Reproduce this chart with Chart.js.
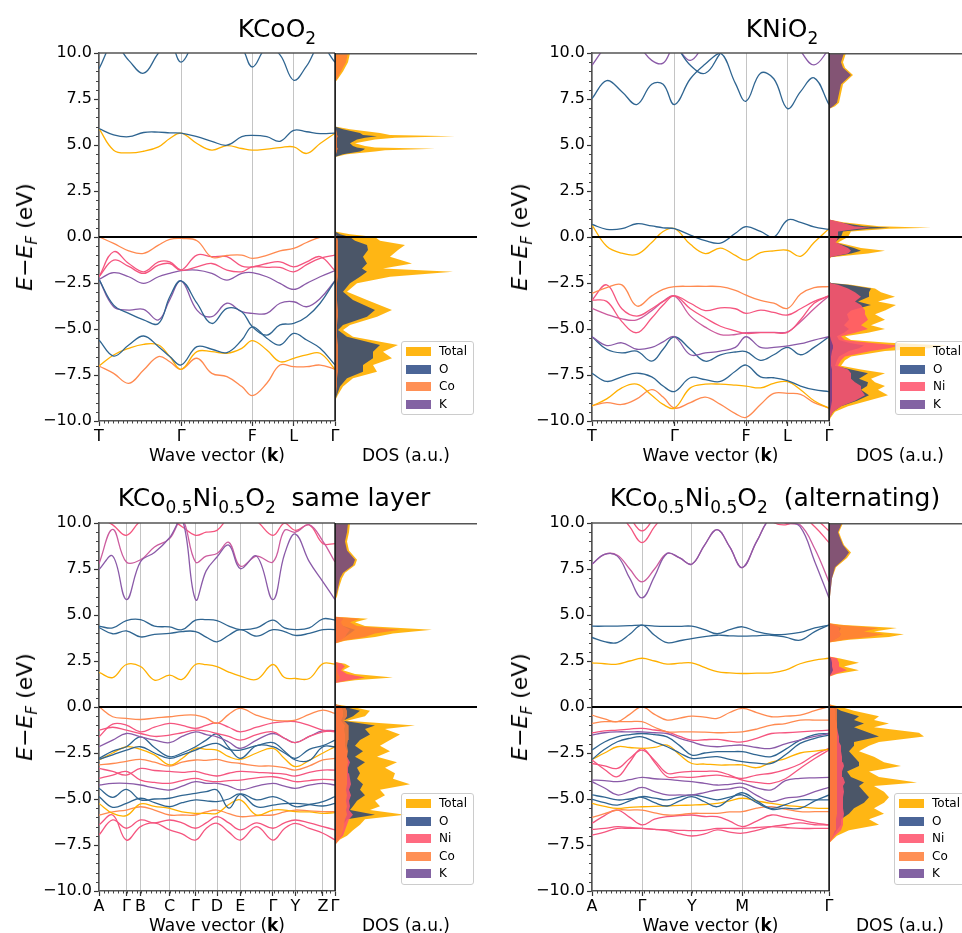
<!DOCTYPE html>
<html>
<head>
<meta charset="utf-8">
<title>Band structures and DOS</title>
<script src="https://cdn.jsdelivr.net/npm/chart.js@4.4.1/dist/chart.umd.min.js"></script>
<style>
  html, body { margin: 0; padding: 0; background: #fff; }
  body { position: relative; width: 962px; height: 933px; overflow: hidden; font-family: "DejaVu Sans", sans-serif; color: #000; }
  canvas { position: absolute; display: block; }
  .title { position: absolute; font-size: 25px; line-height: 1; white-space: nowrap; transform: translateX(-50%); }
  .title sub { font-size: 17px; line-height: 0; vertical-align: -7px; }
  .ylab { position: absolute; font-size: 22px; line-height: 1; white-space: nowrap; transform: translate(-50%, -50%) rotate(-90deg); }
  .ylab sub { font-size: 15px; line-height: 0; vertical-align: -5px; }
  .xlab { position: absolute; font-size: 17px; line-height: 1; white-space: nowrap; transform: translateX(-50%); }
  .legend { position: absolute; background: rgba(255,255,255,0.8); border: 1px solid #ccc; border-radius: 3px; padding: 1px 6px 1px 4px; font-size: 12px; line-height: 17.6px; white-space: nowrap; }
  .legend span { display: inline-block; width: 25px; height: 9px; margin-right: 8px; vertical-align: -1px; }
</style>
</head>
<body>
<script>
// ---------- k paths and high-symmetry labels ----------
// KCoO2 and KNiO2 share the T-Γ-F-L-Γ path
const kPathTFL = [0, 0.062, 0.126, 0.189, 0.252, 0.30, 0.348, 0.415, 0.478, 0.542, 0.605, 0.650, 0.711, 0.767, 0.825, 0.880, 0.937, 1];
const kTicksTFL = [0, 0.348, 0.650, 0.825, 1];
const kLabelsTFL = ['T', 'Γ', 'F', 'L', 'Γ'];

const kPathSame = [0, 0.058, 0.116, 0.176, 0.235, 0.299, 0.352, 0.409, 0.454, 0.5, 0.55, 0.599, 0.668, 0.737, 0.786, 0.832, 0.891, 0.949, 1];
const kTicksSame = [0, 0.116, 0.176, 0.299, 0.409, 0.5, 0.599, 0.737, 0.832, 0.949, 1];
const kLabelsSame = ['A', 'Γ', 'B', 'C', 'Γ', 'D', 'E', 'Γ', 'Y', 'Z', 'Γ'];

const kPathAlt = [0, 0.053, 0.107, 0.159, 0.211, 0.264, 0.317, 0.37, 0.421, 0.475, 0.528, 0.581, 0.634, 0.695, 0.757, 0.816, 0.878, 0.94, 1];
const kTicksAlt = [0, 0.211, 0.421, 0.634, 1];
const kLabelsAlt = ['A', 'Γ', 'Y', 'M', 'Γ'];

// ---------- bands (eV, one value per k point) ----------
const kcoBands = [
  [9.15, 10.5, 9.6, 8.9, 10.0, 10.6, 9.5, 10.8, 11, 11, 10.3, 9.24, 10.3, 9.9, 8.52, 9.3, 10.4, 9.5],
  [5.89, 5.55, 5.45, 5.68, 5.70, 5.66, 5.64, 5.45, 5.2, 4.99, 5.45, 5.52, 5.45, 5.2, 5.8, 5.72, 5.62, 5.64],
  [5.89, 4.72, 4.57, 4.66, 4.9, 5.35, 5.64, 5.08, 4.72, 4.97, 4.81, 4.72, 4.78, 4.86, 4.9, 4.54, 5.08, 5.64],
  [0.01, -0.35, -0.75, -0.89, -0.44, -0.13, -0.08, -0.2, -1.1, -1.0, -0.98, -1.16, -1.0, -0.75, -0.62, -0.3, -0.02, 0.01],
  [-2.16, -0.8, -1.44, -1.89, -1.35, -1.35, -1.8, -1.62, -1.44, -1.8, -1.89, -1.62, -1.65, -1.65, -1.89, -1.5, -1.16, -0.98],
  [-2.16, -1.26, -1.6, -1.98, -1.53, -1.44, -1.8, -0.98, -1.07, -1.07, -1.58, -1.62, -1.44, -1.35, -1.62, -1.35, -1.07, -1.83],
  [-2.3, -1.94, -2.16, -2.52, -2.16, -1.98, -1.83, -1.8, -1.98, -2.34, -1.98, -1.94, -2.16, -2.52, -2.85, -2.52, -2.16, -1.83],
  [-2.3, -3.7, -4.15, -4.5, -4.7, -3.25, -2.38, -3.6, -4.7, -3.88, -4.06, -4.88, -5.33, -4.78, -4.7, -4.33, -3.6, -2.38],
  [-2.3, -3.79, -3.97, -3.93, -4.51, -3.4, -2.38, -3.97, -4.33, -3.6, -4.06, -4.15, -4.15, -3.6, -3.52, -3.79, -3.34, -2.38],
  [-5.6, -6.47, -5.87, -5.38, -5.96, -6.5, -6.95, -5.96, -6.1, -6.28, -5.6, -4.88, -5.5, -5.87, -5.24, -5.6, -6.05, -6.95],
  [-7.01, -6.41, -6.05, -5.83, -5.87, -6.5, -7.19, -6.23, -6.23, -6.32, -6.05, -5.63, -6.14, -6.78, -6.59, -6.41, -6.32, -7.19],
  [-7.01, -7.41, -7.95, -7.23, -6.5, -6.78, -7.19, -6.59, -7.41, -7.59, -8.13, -8.62, -7.95, -6.96, -7.05, -7.05, -6.96, -7.19]
];
const kcoColours = ['blue', 'blue', 'gold', 'orange', 'pink', 'pink', 'purple', 'blue', 'purple', 'blue', 'gold', 'orange'];

const kniBands = [
  [7.52, 8.5, 7.9, 7.2, 8.3, 8.3, 7.2, 8.6, 9.4, 10.0, 8.35, 7.38, 8.9, 8.6, 6.98, 7.9, 8.65, 7.2],
  [11, 11, 11, 11, 11, 11, 10.5, 9.33, 8.9, 10.0, 11, 11, 11, 11, 11, 11, 11, 11],
  [9.33, 10.4, 11, 10.5, 9.6, 9.45, 10.3, 9.6, 10.5, 11, 11, 11, 11, 11, 11, 10.1, 9.35, 10.2],
  [0.68, 0.42, 0.45, 0.72, 0.6, 0.5, 0.45, 0.1, -0.2, -0.33, 0.2, 0.56, 0.3, 0.0, 0.92, 0.8, 0.55, 0.41],
  [0.65, -0.5, -0.88, -0.95, -0.3, 0.3, 0.46, -0.4, -0.9, -0.6, -1.0, -1.26, -0.85, -0.75, -0.72, -1.05, -0.3, 0.45],
  [-3.07, -2.75, -2.6, -3.75, -3.2, -2.85, -2.7, -2.68, -2.68, -2.7, -2.9, -3.16, -3.45, -3.6, -3.88, -3.1, -2.75, -2.7],
  [-3.43, -3.5, -4.6, -5.2, -4.4, -3.7, -3.2, -3.9, -4.4, -4.85, -5.1, -5.24, -5.2, -5.2, -5.18, -4.5, -3.6, -3.2],
  [-3.43, -2.6, -3.9, -4.3, -3.9, -3.5, -3.2, -3.6, -4.0, -3.85, -3.9, -4.15, -3.97, -4.1, -4.24, -3.9, -3.5, -3.2],
  [-3.88, -4.2, -4.45, -4.5, -4.0, -3.5, -3.2, -4.3, -4.9, -5.3, -5.3, -5.2, -5.18, -5.18, -5.15, -4.6, -3.9, -3.2],
  [-5.42, -5.9, -5.75, -6.1, -6.0, -5.7, -5.42, -6.4, -6.3, -6.2, -6.0, -5.42, -6.0, -6.0, -5.92, -5.8, -5.6, -5.42],
  [-5.42, -6.1, -6.3, -6.2, -6.75, -6.1, -5.42, -6.1, -6.75, -6.4, -6.25, -6.23, -6.7, -6.4, -6.0, -6.4, -6.0, -5.42],
  [-7.41, -7.85, -7.6, -7.4, -7.6, -8.1, -8.4, -7.65, -7.75, -7.85, -7.3, -6.96, -7.6, -7.65, -7.8, -8.1, -8.3, -8.4],
  [-9.18, -8.8, -8.2, -8.0, -8.6, -9.1, -9.3, -8.2, -8.0, -8.0, -8.05, -8.1, -8.2, -7.95, -7.86, -8.3, -8.9, -9.3],
  [-9.18, -9.0, -9.1, -8.8, -8.3, -8.7, -9.3, -9.0, -8.7, -9.1, -9.6, -9.8, -9.1, -8.5, -8.5, -8.55, -9.0, -9.3]
];
const kniColours = ['blue', 'blue', 'purple', 'blue', 'gold', 'orange', 'pink', 'pink', 'magenta', 'purple', 'blue', 'blue', 'gold', 'orange'];

const sameBands = [
  [7.47, 8.2, 5.84, 7.9, 8.4, 9.2, 10.2, 5.84, 7.4, 8.15, 8.8, 7.52, 8.2, 5.84, 8.3, 9.4, 7.9, 6.8, 5.84],
  [7.79, 9.65, 7.88, 8.0, 8.7, 9.15, 10.2, 7.88, 8.2, 8.34, 8.95, 7.65, 8.2, 7.88, 9.6, 9.5, 9.9, 9.0, 7.88],
  [10.3, 9.9, 9.33, 10.1, 10.3, 10.2, 9.8, 9.33, 9.5, 9.6, 10.3, 10.5, 10.1, 9.33, 10.0, 9.6, 9.9, 8.88, 8.88],
  [4.39, 4.3, 4.7, 4.75, 4.4, 4.35, 4.2, 4.72, 4.75, 4.7, 4.4, 4.21, 4.3, 4.72, 4.3, 4.21, 4.3, 4.79, 4.72],
  [4.32, 3.98, 4.14, 3.81, 3.95, 4.0, 4.1, 4.1, 3.8, 3.54, 3.9, 4.21, 3.85, 4.2, 4.1, 3.89, 4.0, 4.2, 4.21],
  [1.88, 1.6, 2.31, 2.2, 1.46, 1.73, 1.5, 2.31, 2.3, 2.19, 1.9, 1.68, 1.5, 2.31, 1.6, 1.55, 1.55, 2.36, 2.33],
  [0.01, -0.53, -0.62, -0.68, -0.6, -0.53, -0.45, -0.44, -0.6, -0.89, -0.4, -0.08, -0.45, -0.71, -0.75, -0.71, -0.4, -0.17, -0.35],
  [-1.62, -0.93, -0.98, -1.35, -1.1, -0.89, -1.0, -1.16, -1.0, -0.86, -1.1, -1.35, -1.1, -0.86, -0.8, -0.8, -1.0, -1.26, -1.35],
  [-1.26, -1.1, -1.26, -1.44, -1.6, -1.53, -1.4, -1.26, -1.3, -1.44, -1.6, -1.8, -1.5, -1.35, -1.7, -1.94, -1.6, -1.35, -1.29],
  [-2.16, -1.8, -1.44, -1.62, -1.8, -1.94, -1.6, -1.35, -1.5, -1.62, -1.9, -2.25, -1.8, -1.44, -1.7, -1.94, -1.6, -1.29, -1.29],
  [-2.79, -2.4, -2.16, -1.62, -2.2, -2.7, -2.5, -2.16, -1.8, -1.47, -2.2, -2.79, -2.1, -2.16, -2.5, -2.79, -2.3, -2.1, -1.8],
  [-2.85, -2.6, -2.34, -2.16, -2.5, -2.79, -2.6, -2.34, -2.1, -1.98, -2.3, -2.34, -2.1, -1.94, -2.4, -2.88, -2.9, -2.16, -2.16],
  [-2.88, -2.5, -2.16, -2.3, -2.6, -3.15, -2.8, -2.25, -2.3, -2.34, -2.7, -2.85, -2.5, -2.25, -2.8, -3.24, -2.9, -2.5, -2.16],
  [-3.15, -3.07, -2.95, -2.85, -3.0, -3.21, -3.0, -2.88, -2.9, -2.85, -3.0, -3.07, -3.2, -3.21, -3.3, -3.43, -3.2, -2.88, -2.79],
  [-3.34, -3.5, -3.7, -3.34, -3.45, -3.5, -3.55, -3.5, -3.65, -3.75, -3.6, -3.5, -3.55, -3.6, -3.65, -3.75, -3.55, -3.43, -3.43],
  [-3.88, -3.7, -3.5, -3.97, -4.1, -4.15, -4.0, -3.88, -4.0, -4.06, -4.0, -3.97, -3.85, -3.79, -3.9, -4.06, -4.0, -3.93, -3.97],
  [-4.24, -4.15, -4.15, -4.24, -4.4, -4.51, -4.3, -4.06, -4.15, -4.15, -4.3, -4.51, -4.3, -4.15, -4.3, -4.42, -4.25, -4.15, -4.24],
  [-4.42, -4.91, -4.48, -5.05, -5.0, -4.96, -4.8, -4.69, -4.6, -4.51, -5.5, -4.73, -5.05, -4.87, -5.1, -5.42, -5.3, -5.14, -4.87],
  [-4.87, -5.45, -5.24, -4.96, -5.2, -5.42, -5.2, -5.05, -5.1, -5.14, -5.0, -4.73, -5.42, -5.33, -5.25, -5.24, -5.3, -5.38, -5.24],
  [-5.24, -5.78, -5.9, -5.27, -5.4, -5.51, -5.7, -5.78, -5.78, -5.78, -5.3, -5.05, -5.87, -5.6, -5.6, -5.69, -5.7, -5.78, -5.74],
  [-5.87, -5.7, -5.6, -5.42, -5.6, -5.87, -5.87, -5.87, -5.7, -5.6, -5.8, -5.96, -5.9, -5.87, -5.7, -5.6, -5.65, -5.69, -5.69],
  [-6.41, -5.87, -7.23, -6.5, -6.3, -6.68, -6.9, -7.23, -6.6, -6.32, -6.8, -7.23, -6.5, -7.23, -6.6, -6.32, -6.6, -6.86, -7.23],
  [-6.96, -6.14, -6.59, -6.14, -6.3, -6.14, -6.3, -6.59, -6.3, -5.96, -6.3, -6.68, -6.3, -6.59, -6.3, -6.14, -6.3, -6.5, -6.68]
];
const sameColours = ['purple', 'magenta', 'pink', 'blue', 'blue', 'gold',
  'orange', 'pink', 'pink', 'purple', 'blue', 'blue', 'gold', 'orange', 'pink', 'pink', 'purple', 'blue', 'blue', 'gold', 'orange', 'pink', 'pink'];

const altBands = [
  [7.76, 8.3, 8.2, 7.0, 5.93, 7.1, 8.35, 8.1, 7.76, 8.8, 9.64, 8.7, 7.58, 9.0, 10.3, 10.1, 9.8, 7.9, 5.93],
  [7.76, 8.3, 8.25, 7.5, 6.8, 7.5, 8.35, 8.1, 7.76, 8.8, 9.64, 8.7, 7.58, 9.0, 10.3, 10.0, 9.9, 8.6, 6.8],
  [11, 11, 10.6, 9.8, 8.93, 9.8, 10.6, 11, 11, 11, 11, 11, 11, 11, 10.4, 10.3, 10.4, 9.8, 8.93],
  [11.5, 11.5, 11, 10.3, 9.57, 10.3, 11, 11.5, 11.5, 11.5, 11.5, 11.5, 11.5, 11, 10.1, 9.9, 10.2, 10.2, 9.57],
  [4.39, 4.39, 4.4, 4.42, 4.45, 4.4, 4.38, 4.38, 4.39, 4.2, 3.98, 4.2, 4.36, 4.1, 3.95, 3.95, 4.05, 4.3, 4.45],
  [3.78, 3.55, 3.5, 3.95, 4.45, 3.9, 3.5, 3.6, 3.72, 3.82, 3.9, 3.87, 3.85, 3.87, 3.9, 3.8, 3.63, 4.1, 4.45],
  [2.4, 2.35, 2.33, 2.5, 2.65, 2.5, 2.33, 2.38, 2.4, 2.15, 1.92, 1.85, 1.82, 1.84, 1.86, 2.0, 2.35, 2.55, 2.65],
  [-0.44, -0.65, -0.8, -0.4, 0.01, -0.4, -0.71, -0.6, -0.5, -0.55, -0.62, -0.3, -0.08, -0.3, -0.53, -0.5, -0.44, -0.2, 0.01],
  [-0.89, -0.8, -0.8, -0.8, -0.8, -1.1, -1.35, -1.35, -1.35, -1.37, -1.4, -1.38, -1.35, -1.2, -0.98, -0.9, -0.71, -0.71, -0.71],
  [-1.4, -1.3, -1.26, -1.2, -1.16, -1.25, -1.35, -1.6, -1.8, -1.78, -1.76, -1.85, -1.9, -1.7, -1.44, -1.4, -1.35, -1.3, -1.26],
  [-1.53, -1.4, -1.35, -1.35, -1.35, -1.4, -1.44, -1.7, -1.9, -2.1, -2.16, -2.1, -2.07, -2.2, -2.25, -2.0, -1.8, -1.6, -1.44],
  [-2.34, -1.9, -1.62, -1.5, -1.44, -1.5, -1.62, -2.1, -2.61, -2.5, -2.43, -2.43, -2.43, -2.6, -2.7, -2.3, -1.8, -1.5, -1.44],
  [-2.85, -2.3, -1.89, -1.7, -1.62, -1.9, -2.16, -2.5, -2.79, -2.75, -2.7, -2.85, -2.97, -3.05, -3.07, -2.6, -1.98, -1.7, -1.53],
  [-2.85, -2.5, -2.16, -2.2, -2.25, -2.2, -2.07, -2.6, -3.07, -3.1, -3.15, -3.15, -3.15, -3.3, -3.0, -2.8, -2.5, -2.4, -2.3],
  [-2.88, -3.4, -3.79, -3.0, -2.25, -3.0, -3.79, -3.8, -3.82, -3.75, -3.7, -3.8, -3.88, -3.7, -3.6, -3.4, -3.1, -2.6, -2.25],
  [-3.07, -3.2, -3.34, -2.8, -2.34, -2.9, -3.6, -3.55, -3.5, -3.5, -3.5, -3.7, -3.97, -4.1, -4.15, -3.9, -3.34, -2.8, -2.34],
  [-3.97, -4.0, -4.06, -3.95, -3.82, -3.9, -3.93, -4.0, -4.06, -4.15, -4.24, -4.2, -4.15, -4.4, -4.5, -4.0, -3.88, -3.85, -3.82],
  [-4.06, -4.4, -4.78, -4.6, -4.37, -4.6, -4.78, -4.78, -4.78, -4.65, -4.51, -4.45, -4.37, -4.8, -5.14, -4.95, -4.87, -4.6, -4.37],
  [-4.78, -4.9, -5.05, -5.0, -4.91, -5.2, -5.38, -5.1, -4.87, -5.15, -5.42, -5.0, -4.66, -5.1, -5.51, -5.3, -5.05, -5.05, -5.05],
  [-5.02, -5.2, -5.33, -5.1, -4.87, -4.95, -5.05, -4.9, -4.78, -4.9, -5.05, -4.9, -4.78, -5.2, -5.56, -5.5, -5.51, -5.1, -4.78],
  [-5.24, -5.4, -5.51, -5.45, -5.42, -5.4, -5.38, -5.35, -5.33, -5.3, -5.24, -5.1, -4.96, -5.1, -5.24, -5.35, -5.42, -5.5, -5.51],
  [-6.0, -5.8, -5.6, -5.6, -5.6, -5.75, -5.87, -5.85, -5.78, -5.78, -5.78, -5.7, -5.69, -5.5, -5.42, -5.55, -5.69, -5.69, -5.69],
  [-6.32, -5.9, -5.6, -6.0, -6.41, -6.1, -5.96, -5.9, -5.87, -5.95, -5.96, -6.2, -6.5, -6.2, -5.87, -6.0, -6.14, -6.3, -6.41],
  [-6.65, -6.6, -6.5, -6.55, -6.6, -6.65, -6.68, -6.7, -6.72, -6.7, -6.6, -6.6, -6.6, -6.55, -6.5, -6.55, -6.6, -6.6, -6.6],
  [-6.96, -6.8, -6.6, -6.6, -6.6, -6.65, -6.72, -6.9, -7.01, -6.9, -6.68, -6.8, -6.86, -6.7, -6.5, -6.4, -6.3, -6.4, -6.41]
];
const altColours = ['purple', 'magenta', 'pink', 'pink', 'blue', 'blue', 'gold',
  'orange', 'orange', 'pink', 'purple', 'blue', 'blue', 'gold', 'pink', 'pink', 'purple', 'purple', 'blue', 'blue', 'gold', 'orange', 'pink', 'pink', 'pink'];

// ---------- projected DOS (a.u.) ----------
const kcoDosE = [-8.9, -8.58, -8.13, -7.68, -7.32, -6.96, -6.59, -6.23, -5.87, -5.42,
  -5.05, -4.78, -4.33, -3.97, -3.43, -2.97, -2.52, -2.16, -1.89, -1.71,
  -1.44, -1.07, -0.71, -0.44, -0.2, 0.0, 0.15, 0.3,
  4.35, 4.5, 4.65, 4.72, 4.79, 4.86, 4.95, 5.1, 5.3, 5.4, 5.48, 5.55, 5.65, 5.85, 6.0,
  8.4, 8.6, 9.0, 9.5, 10.0];
const kcoDosTotal = [0, 3, 8, 18, 42, 38, 57, 48, 63, 18,
  8, 15, 42, 57, 32, 12, 22, 55, 118, 48,
  77, 55, 63, 70, 45, 40, 15, 0,
  0, 12, 40, 50, 100, 40, 30, 20, 40, 60, 120, 55, 45, 15, 0,
  0, 3, 8, 13, 15];
const kcoDosO = [0, 2, 5, 12, 28, 28, 38, 38, 45, 12,
  3, 8, 32, 40, 18, 8, 15, 25, 32, 27,
  32, 28, 33, 32, 20, 15, 5, 0,
  0, 8, 25, 28, 30, 22, 18, 15, 22, 30, 42, 28, 25, 8, 0,
  0, 0, 0, 0, 0];
const kcoDosCo = [0, 1, 2, 2, 3, 3, 3, 3, 3, 2,
  2, 2, 3, 3, 2, 2, 2, 3, 3, 3,
  3, 3, 3, 3, 3, 2, 1, 0,
  0, 1, 2, 2, 3, 2, 2, 2, 2, 2, 3, 2, 2, 1, 0,
  0, 2, 6, 11, 13];
const kcoDosK = [0, 0, 0, 0, 0, 0, 0, 0, 0, 0,
  0, 0, 0, 0, 0, 0, 0, 0, 0, 0,
  0, 0, 0, 0, 0, 0, 0, 0,
  0, 0, 0, 0, 0, 0, 0, 0, 0, 0, 0, 0, 0, 0, 0,
  0, 0, 0, 0, 0];

const kniDosE = [-10.0, -9.8, -9.5, -9.2, -8.9, -8.6, -8.3, -8.1, -7.9, -7.7,
  -7.4, -7.2, -7.0, -6.7, -6.5, -6.2, -6.05, -5.9, -5.75, -5.6,
  -5.4, -5.2, -5.0, -4.8, -4.5, -4.2, -4.0, -3.7, -3.5, -3.25,
  -3.0, -2.8, -2.6, -2.5, -2.4,
  -1.25, -1.1, -0.9, -0.75, -0.6, -0.3, 0.0, 0.3, 0.45, 0.5, 0.58, 0.8, 0.95,
  6.95, 7.1, 7.3, 7.8, 8.3, 8.8, 9.2, 9.5, 10.0];
const kniDosTotal = [0, 2, 6, 19, 39, 59, 49, 56, 46, 42,
  56, 32, 12, 16, 22, 56, 100, 118, 60, 22,
  16, 39, 56, 42, 56, 46, 56, 67, 49, 66,
  52, 46, 22, 2, 0,
  0, 2, 39, 56, 32, 9, 19, 22, 60, 102, 50, 14, 0,
  0, 6, 10, 12, 14, 24, 16, 14, 17];
const kniDosO = [0, 1, 4, 12, 28, 40, 32, 38, 39, 30,
  39, 22, 6, 8, 10, 20, 30, 35, 20, 10,
  8, 15, 20, 15, 20, 18, 22, 42, 29, 40,
  40, 42, 19, 2, 0,
  0, 1, 22, 32, 25, 6, 12, 14, 40, 61, 35, 10, 0,
  0, 0, 0, 0, 0, 0, 0, 0, 0];
const kniDosNi = [0, 1, 4, 12, 26, 36, 32, 32, 26, 22,
  22, 19, 9, 12, 16, 42, 60, 70, 40, 16,
  12, 26, 39, 32, 39, 36, 36, 32, 26, 32,
  26, 19, 9, 1, 0,
  0, 1, 19, 22, 19, 7, 9, 9, 30, 42, 25, 12, 0,
  0, 0, 0, 0, 0, 0, 0, 0, 0];
const kniDosK = [0, 0, 1, 2, 3, 3, 3, 3, 3, 3,
  3, 3, 2, 2, 2, 3, 4, 4, 3, 2,
  1, 1, 1, 1, 1, 1, 1, 1, 1, 1,
  1, 1, 0, 0, 0,
  0, 0, 0, 0, 0, 0, 0, 0, 0, 0, 0, 0, 0,
  0, 4, 8, 10, 12, 22, 14, 12, 15];

const sameDosE = [-7.5, -7.2, -7.0, -6.7, -6.4, -6.1, -5.85, -5.6, -5.4, -5.1,
  -4.8, -4.5, -4.2, -3.9, -3.6, -3.3, -3.0, -2.7, -2.4, -2.1,
  -1.8, -1.5, -1.2, -1.0, -0.75, -0.5, -0.2, 0.0, 0.15,
  1.3, 1.45, 1.6, 1.8, 2.0, 2.2, 2.35, 2.45,
  3.45, 3.6, 3.8, 4.0, 4.2, 4.4, 4.6, 4.8, 4.9,
  5.8, 6.0, 6.5, 7.0, 7.3, 7.7, 8.0, 8.5, 9.0, 9.5, 10.0];
const sameDosTotal = [0, 5, 12, 18, 25, 30, 70, 35, 45, 40,
  50, 45, 75, 58, 60, 50, 62, 42, 55, 45,
  55, 65, 50, 80, 12, 30, 35, 18, 0,
  0, 20, 58, 20, 8, 15, 10, 0,
  0, 10, 40, 58, 97, 30, 20, 33, 0,
  0, 2, 4, 7, 10, 20, 22, 14, 12, 14, 15];
const sameDosO = [0, 2, 5, 6, 8, 12, 40, 15, 18, 22,
  30, 25, 28, 22, 25, 22, 30, 20, 28, 20,
  25, 35, 30, 40, 8, 18, 25, 10, 0,
  0, 2, 4, 2, 1, 2, 2, 0,
  0, 3, 10, 15, 20, 8, 5, 8, 0,
  0, 0, 0, 0, 0, 0, 0, 0, 0, 0, 0];
const sameDosNi = [0, 4, 8, 10, 12, 14, 18, 14, 15, 14,
  16, 14, 16, 15, 14, 13, 15, 12, 12, 10,
  10, 10, 9, 10, 6, 8, 8, 6, 0,
  0, 14, 30, 12, 6, 10, 7, 0,
  0, 5, 10, 12, 15, 8, 6, 8, 0,
  0, 0, 0, 0, 0, 0, 0, 0, 0, 0, 0];
const sameDosCo = [0, 3, 6, 8, 9, 10, 12, 11, 12, 11,
  12, 11, 12, 12, 12, 12, 13, 12, 13, 12,
  13, 14, 13, 14, 9, 12, 12, 10, 0,
  0, 3, 5, 3, 2, 3, 2, 0,
  0, 8, 30, 40, 65, 22, 15, 25, 0,
  0, 0, 0, 0, 0, 0, 0, 0, 0, 0, 0];
const sameDosK = [0, 0, 0, 0, 0, 0, 0, 0, 0, 0,
  0, 0, 0, 0, 0, 0, 0, 0, 0, 0,
  0, 0, 0, 0, 0, 0, 0, 0, 0,
  0, 0, 0, 0, 0, 0, 0, 0,
  0, 0, 0, 0, 0, 0, 0, 0, 0,
  0, 1, 3, 5, 8, 18, 20, 12, 10, 12, 13];

const altDosE = [-7.4, -7.2, -7.0, -6.7, -6.4, -6.1, -5.8, -5.5, -5.2, -4.9,
  -4.6, -4.3, -4.1, -3.8, -3.5, -3.2, -3.0, -2.7, -2.4, -2.1,
  -1.9, -1.6, -1.4, -1.1, -0.9, -0.7, -0.5, -0.2, 0.0, 0.15,
  1.65, 1.8, 2.0, 2.2, 2.4, 2.65, 2.75,
  3.5, 3.65, 3.8, 3.95, 4.1, 4.3, 4.45, 4.55,
  5.9, 6.0, 6.5, 7.0, 7.6, 8.1, 8.4, 8.8, 9.2, 9.5, 10.0];
const altDosTotal = [0, 4, 8, 20, 50, 40, 55, 45, 55, 60,
  55, 45, 88, 50, 40, 72, 55, 45, 30, 40,
  50, 95, 90, 45, 60, 45, 50, 25, 12, 0,
  0, 8, 30, 15, 30, 10, 0,
  0, 20, 60, 75, 45, 68, 15, 0,
  0, 1, 2, 3, 7, 18, 22, 15, 12, 10, 14];
const altDosO = [0, 2, 4, 8, 12, 12, 20, 25, 35, 40,
  35, 30, 35, 22, 18, 30, 30, 25, 20, 25,
  25, 50, 40, 25, 35, 25, 30, 12, 5, 0,
  0, 1, 2, 1, 2, 1, 0,
  0, 5, 10, 12, 10, 12, 3, 0,
  0, 0, 0, 0, 0, 0, 0, 0, 0, 0, 0];
const altDosNi = [0, 3, 6, 12, 14, 14, 15, 14, 14, 14,
  15, 14, 16, 14, 13, 15, 14, 13, 12, 12,
  10, 10, 9, 8, 8, 7, 7, 6, 4, 0,
  0, 6, 18, 10, 10, 8, 0,
  0, 5, 10, 12, 10, 10, 5, 0,
  0, 0, 0, 0, 0, 0, 0, 0, 0, 0, 0];
const altDosCo = [0, 2, 4, 6, 7, 7, 8, 8, 8, 8,
  8, 8, 8, 8, 8, 8, 8, 8, 8, 8,
  8, 8, 8, 8, 8, 8, 8, 8, 8, 0,
  0, 2, 2, 2, 2, 2, 0,
  0, 15, 40, 55, 35, 50, 10, 0,
  0, 0, 0, 0, 0, 0, 0, 0, 0, 0, 0];
const altDosK = [0, 0, 0, 0, 0, 0, 0, 0, 0, 0,
  0, 0, 0, 0, 0, 0, 0, 0, 0, 0,
  0, 0, 0, 0, 0, 0, 0, 0, 0, 0,
  0, 2, 4, 3, 3, 2, 0,
  0, 0, 0, 0, 0, 0, 0, 0,
  0, 1, 2, 3, 6, 16, 20, 14, 11, 9, 13];

// ---------- styles ----------
const lineColour = { blue: '#2F6591', gold: '#FFB000', orange: '#FF8A50', pink: '#F5557F', purple: '#8A5AA8', magenta: '#CC5C9E' };
const speciesFill = {
  Total: 'rgba(255,176,0,0.92)', O: 'rgba(30,62,125,0.8)', Ni: 'rgba(255,85,110,0.88)',
  Co: 'rgba(255,125,55,0.85)', K: 'rgba(100,60,140,0.8)'
};
const drawOrder = ['K', 'Co', 'Ni', 'O', 'Total']; // first one ends up on top

const AREA_H = 368, Y_W = 60, PAD_T = 12, PAD_R = 12, X_H = 30, DOS_W = 142;

const panels = [
  { left: 99, top: 53, bandW: 236, k: kPathTFL, tickPos: kTicksTFL, tickLabels: kLabelsTFL,
    bands: kcoBands, colours: kcoColours, dosE: kcoDosE,
    dos: { Total: kcoDosTotal, O: kcoDosO, Co: kcoDosCo, K: kcoDosK }, legend: ['Total', 'O', 'Co', 'K'],
    title: 'KCoO<sub>2</sub>', titleX: 277, titleY: 16, ylabX: 25, legX: 401, legY: 341 },
  { left: 592, top: 53, bandW: 237, k: kPathTFL, tickPos: kTicksTFL, tickLabels: kLabelsTFL,
    bands: kniBands, colours: kniColours, dosE: kniDosE,
    dos: { Total: kniDosTotal, O: kniDosO, Ni: kniDosNi, K: kniDosK }, legend: ['Total', 'O', 'Ni', 'K'],
    title: 'KNiO<sub>2</sub>', titleX: 782, titleY: 16, ylabX: 520, legX: 895, legY: 341 },
  { left: 99, top: 523, bandW: 236, k: kPathSame, tickPos: kTicksSame, tickLabels: kLabelsSame,
    bands: sameBands, colours: sameColours, dosE: sameDosE,
    dos: { Total: sameDosTotal, O: sameDosO, Ni: sameDosNi, Co: sameDosCo, K: sameDosK }, legend: ['Total', 'O', 'Ni', 'Co', 'K'],
    title: 'KCo<sub>0.5</sub>Ni<sub>0.5</sub>O<sub>2</sub>&nbsp; same layer', titleX: 274, titleY: 485, ylabX: 25, legX: 401, legY: 793 },
  { left: 592, top: 523, bandW: 237, k: kPathAlt, tickPos: kTicksAlt, tickLabels: kLabelsAlt,
    bands: altBands, colours: altColours, dosE: altDosE,
    dos: { Total: altDosTotal, O: altDosO, Ni: altDosNi, Co: altDosCo, K: altDosK }, legend: ['Total', 'O', 'Ni', 'Co', 'K'],
    title: 'KCo<sub>0.5</sub>Ni<sub>0.5</sub>O<sub>2</sub>&nbsp; (alternating)', titleX: 775, titleY: 485, ylabX: 520, legX: 894, legY: 793 }
];

Chart.defaults.font.family = '"DejaVu Sans", sans-serif';
Chart.defaults.color = '#000';

// minor ticks, Fermi level and the remaining spines of a band panel
const bandDecor = {
  id: 'bandDecor',
  afterDatasetsDraw(chart) {
    const { ctx, chartArea: a, scales: { x, y } } = chart;
    ctx.save();
    ctx.strokeStyle = '#444';
    ctx.lineWidth = 1;
    ctx.beginPath();
    for (let i = -20; i <= 20; i++) {
      if (i % 5 === 0) continue;
      const py = Math.round(y.getPixelForValue(i / 2)) + 0.5;
      ctx.moveTo(a.left - 3, py);
      ctx.lineTo(a.left, py);
    }
    for (let i = 1; i < 50; i++) {
      const px = Math.round(x.getPixelForValue(i / 50)) + 0.5;
      ctx.moveTo(px, a.bottom);
      ctx.lineTo(px, a.bottom + 2.5);
    }
    ctx.stroke();
    const y0 = y.getPixelForValue(0);
    ctx.strokeStyle = '#000';
    ctx.lineWidth = 2;
    ctx.beginPath(); ctx.moveTo(a.left, y0); ctx.lineTo(a.right, y0); ctx.stroke();
    ctx.strokeStyle = '#555';
    ctx.lineWidth = 1.5;
    ctx.beginPath(); ctx.moveTo(a.left, a.top); ctx.lineTo(a.right, a.top); ctx.stroke();
    ctx.strokeStyle = '#222';
    ctx.beginPath(); ctx.moveTo(a.right, a.top); ctx.lineTo(a.right, a.bottom); ctx.stroke();
    ctx.restore();
  }
};

const dosDecor = {
  id: 'dosDecor',
  afterDatasetsDraw(chart) {
    const { ctx, chartArea: a, scales: { y } } = chart;
    ctx.save();
    const y0 = y.getPixelForValue(0);
    ctx.strokeStyle = '#000';
    ctx.lineWidth = 2;
    ctx.beginPath(); ctx.moveTo(a.left, y0); ctx.lineTo(a.right, y0); ctx.stroke();
    ctx.strokeStyle = '#555';
    ctx.lineWidth = 1.5;
    ctx.beginPath(); ctx.moveTo(a.left, a.top + 0.75); ctx.lineTo(a.right, a.top + 0.75); ctx.stroke();
    ctx.strokeStyle = '#222';
    ctx.lineWidth = 2;
    ctx.beginPath(); ctx.moveTo(a.left, a.top); ctx.lineTo(a.left, a.bottom); ctx.stroke();
    ctx.restore();
  }
};

function bandChart(p) {
  const c = document.createElement('canvas');
  c.width = Y_W + p.bandW + PAD_R;
  c.height = PAD_T + AREA_H + X_H;
  c.style.left = (p.left - Y_W) + 'px';
  c.style.top = (p.top - PAD_T) + 'px';
  document.body.appendChild(c);
  new Chart(c, {
    type: 'line',
    data: {
      datasets: p.bands.map((e, i) => ({
        data: p.k.map((kv, j) => ({ x: kv, y: e[j] })),
        borderColor: lineColour[p.colours[i]],
        borderWidth: 1.3,
        pointRadius: 0,
        tension: 0.4,
        fill: false
      }))
    },
    options: {
      responsive: false, animation: false, events: [],
      layout: { padding: { left: 0, top: PAD_T, right: PAD_R, bottom: 0 } },
      plugins: { legend: { display: false }, tooltip: { enabled: false } },
      scales: {
        x: {
          type: 'linear', min: 0, max: 1,
          afterBuildTicks: s => { s.ticks = p.tickPos.map(v => ({ value: v })); },
          afterFit: s => { s.height = X_H; },
          ticks: { autoSkip: false, maxRotation: 0, minRotation: 0, padding: 1, font: { size: 16 },
                   callback: (v, i) => p.tickLabels[i] },
          grid: { color: '#c4c4c4', lineWidth: 1, tickColor: '#333', tickLength: 5, tickWidth: 1.2 },
          border: { display: true, color: '#555', width: 1.5 }
        },
        y: {
          type: 'linear', min: -10, max: 10,
          afterFit: s => { s.width = Y_W; },
          ticks: { stepSize: 2.5, padding: 2, font: { size: 16 },
                   callback: v => (v < 0 ? '\u2212' : '') + Math.abs(v).toFixed(1) },
          grid: { drawOnChartArea: false, tickColor: '#333', tickLength: 5, tickWidth: 1.2 },
          border: { display: true, color: '#555', width: 1.5 }
        }
      }
    },
    plugins: [bandDecor]
  });
}

function dosChart(p) {
  const c = document.createElement('canvas');
  c.width = DOS_W;
  c.height = AREA_H;
  c.style.left = (p.left + p.bandW) + 'px';
  c.style.top = p.top + 'px';
  document.body.appendChild(c);
  new Chart(c, {
    type: 'line',
    data: {
      datasets: drawOrder.filter(s => p.dos[s]).map(s => ({
        data: p.dosE.map((e, j) => ({ x: p.dos[s][j], y: e })),
        backgroundColor: speciesFill[s],
        borderWidth: 0,
        pointRadius: 0,
        tension: 0,
        fill: 'origin'
      }))
    },
    options: {
      indexAxis: 'y', responsive: false, animation: false, events: [],
      layout: { padding: 0 },
      plugins: { legend: { display: false }, tooltip: { enabled: false } },
      scales: {
        x: { type: 'linear', min: 0, max: DOS_W, display: false },
        y: { type: 'linear', min: -10, max: 10, display: false }
      }
    },
    plugins: [dosDecor]
  });
}

function addText(cls, html, x, y) {
  const d = document.createElement('div');
  d.className = cls;
  d.innerHTML = html;
  d.style.left = x + 'px';
  d.style.top = y + 'px';
  document.body.appendChild(d);
}

function addLegend(p) {
  const box = document.createElement('div');
  box.className = 'legend';
  box.style.left = p.legX + 'px';
  box.style.top = p.legY + 'px';
  p.legend.forEach(name => {
    const row = document.createElement('div');
    row.innerHTML = '<span style="background:' + speciesFill[name] + '"></span>' + name;
    box.appendChild(row);
  });
  document.body.appendChild(box);
}

panels.forEach(p => {
  bandChart(p);
  dosChart(p);
  addText('title', p.title, p.titleX, p.titleY);
  addText('ylab', '<i>E</i>\u2212<i>E</i><sub><i>F</i></sub> (eV)', p.ylabX, p.top + AREA_H / 2);
  addText('xlab', 'Wave vector (<b>k</b>)', p.left + p.bandW / 2, p.top + AREA_H + 26);
  addText('xlab', 'DOS (a.u.)', p.left + p.bandW + DOS_W / 2, p.top + AREA_H + 26);
  addLegend(p);
});
</script>
</body>
</html>
